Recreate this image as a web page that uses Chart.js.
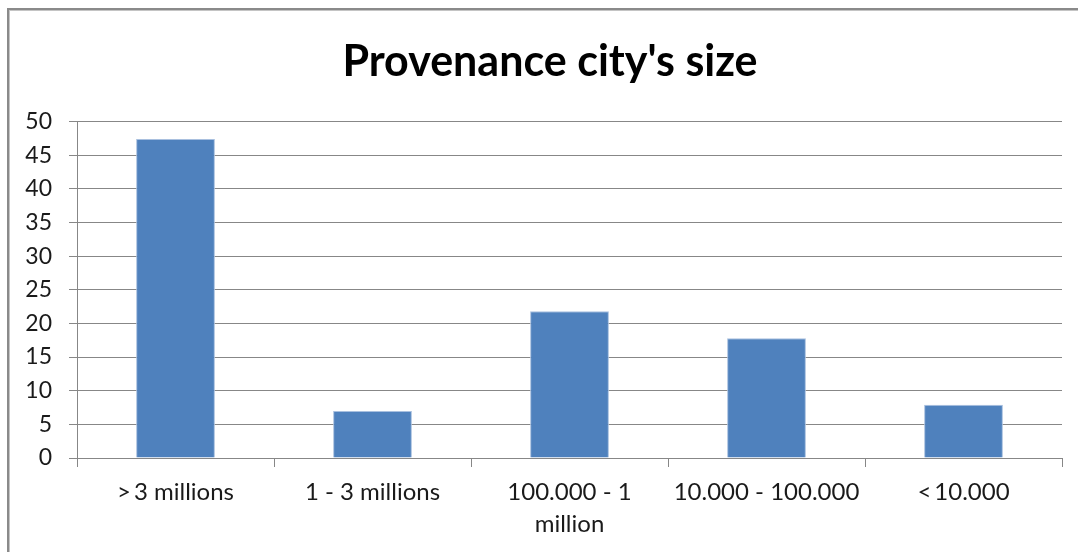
<!DOCTYPE html>
<html>
<head>
<meta charset="utf-8">
<script src="https://cdn.jsdelivr.net/npm/chart.js@4.4.0/dist/chart.umd.min.js"></script>
<style>
  html, body { margin: 0; padding: 0; background: #fff; overflow: hidden; }
  #wrap { position: absolute; left: 0; top: 0; width: 1078px; height: 552px; }
  #frame { position: absolute; left: 7px; top: 8px; width: 1200px; height: 700px;
           border-left: 2px solid #8a8a8a; border-top: 2px solid #8a8a8a;
           box-shadow: inset 1px 1px 0 #c4c4c4; pointer-events: none; }
  canvas { position: absolute; left: 0; top: 0; }
</style>
</head>
<body>
<div id="wrap">
  <canvas id="c" width="1078" height="552"></canvas>
  <div id="frame"></div>
</div>
<script>
const titleText = "Provenance city's size";
const categories = [">\u20093 millions", "1 - 3 millions", ["100.000 - 1", "million"], "10.000 - 100.000", "<\u200910.000"];
const values = [47.4, 7.0, 21.8, 17.8, 7.9];
const yMin = 0;
const yMax = 50;
const yStep = 5;

const FONT = "Lato, 'Open Sans', sans-serif";
const GRID = '#878787';

const titleShift = {
  id: 'titleShift',
  afterLayout(chart) {
    const t = chart.titleBlock;
    if (t) { t.left = 38; t.right = 1062; }
  }
};

new Chart(document.getElementById('c'), {
  type: 'bar',
  data: {
    labels: categories,
    datasets: [{
      data: values,
      backgroundColor: '#4F81BD',
      borderColor: '#a9c0df',
      borderWidth: 1,
      barPercentage: 0.4,
      categoryPercentage: 1.0
    }]
  },
  plugins: [titleShift],
  options: {
    responsive: false,
    animation: false,
    devicePixelRatio: 1,
    layout: { padding: { left: 0, right: 16, top: 0, bottom: 0 } },
    plugins: {
      legend: { display: false },
      tooltip: { enabled: false },
      title: {
        display: true,
        text: titleText,
        color: '#000',
        font: { family: FONT, size: 43, weight: 'bold', lineHeight: 1.2 },
        padding: { top: 36, bottom: 33.9 }
      }
    },
    scales: {
      x: {
        offset: true,
        grid: { display: true, offset: true, drawOnChartArea: false, drawTicks: true,
                tickLength: 9, color: GRID, lineWidth: 1 },
        border: { display: true, color: GRID, width: 1 },
        ticks: { color: '#1a1a1a', padding: 9.5, maxRotation: 0, autoSkip: false,
                 font: { family: FONT, size: 24, lineHeight: 1.33 } },
        afterFit: (s) => { s.height = 94; }
      },
      y: {
        min: yMin, max: yMax,
        grid: { color: GRID, lineWidth: 1, tickLength: 8, drawTicks: true },
        border: { display: true, color: GRID, width: 1 },
        ticks: { stepSize: yStep, color: '#1a1a1a', padding: 17,
                 font: { family: FONT, size: 23 } },
        afterFit: (s) => { s.width = 77; }
      }
    }
  }
});
</script>
</body>
</html>
